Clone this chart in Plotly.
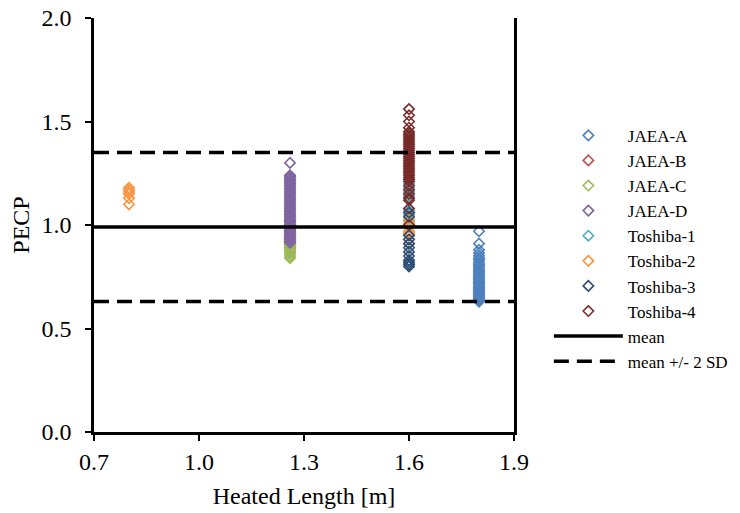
import plotly.graph_objects as go

# ---- data ----
series_names = ["JAEA-A", "JAEA-B", "JAEA-C", "JAEA-D",
                "Toshiba-1", "Toshiba-2", "Toshiba-3", "Toshiba-4"]
series_colors = ["#4F81BD", "#C0504D", "#9BBB59", "#8064A2",
                 "#4BACC6", "#F79646", "#2C4D75", "#772C2A"]

jaea_a_x = 1.8
jaea_a_y = [0.97, 0.91, 0.88, 0.865, 0.852, 0.84, 0.833, 0.821, 0.812, 0.806,
            0.797, 0.789, 0.781, 0.774, 0.768, 0.761, 0.755, 0.748, 0.742, 0.736,
            0.729, 0.723, 0.717, 0.711, 0.704, 0.698, 0.693, 0.686, 0.681, 0.675,
            0.669, 0.664, 0.658, 0.652, 0.647, 0.642, 0.638, 0.634, 0.63]

jaea_b_x = 1.26
jaea_b_y = [0.87, 0.89, 0.905, 0.92, 0.935, 0.95, 0.97, 0.99, 1.02, 1.05]

jaea_c_x = 1.26
jaea_c_y = [0.84, 0.85, 0.86, 0.87, 0.88, 0.885, 0.895, 0.90, 0.91, 0.92,
            0.93, 0.94, 0.95, 0.96, 0.98, 1.00]

jaea_d_x = 1.26
jaea_d_y = [1.30, 1.24, 1.235, 1.228, 1.22, 1.214, 1.206, 1.199, 1.191, 1.184,
            1.176, 1.169, 1.161, 1.154, 1.146, 1.139, 1.131, 1.124, 1.116, 1.109,
            1.101, 1.094, 1.086, 1.079, 1.071, 1.064, 1.056, 1.049, 1.041, 1.034,
            1.026, 1.019, 1.011, 1.004, 0.996, 0.989, 0.981, 0.974, 0.966, 0.959,
            0.951, 0.944, 0.936, 0.929, 0.921, 0.915]

toshiba1_x = [1.6, 1.6, 1.6, 1.6, 1.6, 1.6, 1.6, 1.6]
toshiba1_y = [1.22, 1.20, 1.18, 1.16, 1.14, 1.07, 1.05, 1.02]

toshiba2_x = [0.8, 0.8, 0.8, 0.8, 0.8, 0.8,
              1.6, 1.6, 1.6, 1.6, 1.6, 1.6, 1.6, 1.6, 1.6]
toshiba2_y = [1.18, 1.17, 1.16, 1.15, 1.13, 1.10,
              1.03, 1.01, 1.00, 0.99, 0.97, 0.96, 0.95, 0.93, 0.91]

toshiba3_x = 1.6
toshiba3_y = [1.06, 1.04, 0.95, 0.93, 0.91, 0.89, 0.87, 0.85, 0.83, 0.82, 0.81, 0.80]

toshiba4_x = 1.6
toshiba4_y = [1.56, 1.53, 1.50, 1.47, 1.45, 1.44, 1.43, 1.42, 1.41, 1.40,
              1.39, 1.38, 1.37, 1.36, 1.35, 1.34, 1.33, 1.32, 1.31, 1.30,
              1.29, 1.28, 1.27, 1.26, 1.25, 1.24, 1.23, 1.22, 1.21, 1.19,
              1.17, 1.15, 1.13, 1.12, 1.08, 1.00]

line_x = [0.7, 1.9]
mean_value = 0.99
upper_value = 1.35
lower_value = 0.63

x_ticks = [0.7, 1.0, 1.3, 1.6, 1.9]
y_ticks = [0.0, 0.5, 1.0, 1.5, 2.0]

# ---- figure ----
def as_list(x, ys):
    return x if isinstance(x, list) else [x] * len(ys)

xs = [jaea_a_x, jaea_b_x, jaea_c_x, jaea_d_x, toshiba1_x, toshiba2_x, toshiba3_x, toshiba4_x]
ys = [jaea_a_y, jaea_b_y, jaea_c_y, jaea_d_y, toshiba1_y, toshiba2_y, toshiba3_y, toshiba4_y]

FONT = "Liberation Serif, Times New Roman, serif"
fig = go.Figure()
for name, color, x, y in zip(series_names, series_colors, xs, ys):
    fig.add_trace(go.Scatter(
        x=as_list(x, y), y=y, mode="markers", name=name,
        marker=dict(symbol="diamond-open", size=8, color=color,
                    line=dict(width=1.6, color=color))))

fig.add_trace(go.Scatter(
    x=line_x, y=[mean_value, mean_value], mode="lines", name="mean",
    line=dict(color="black", width=3.5)))
fig.add_trace(go.Scatter(
    x=line_x + [None] + line_x,
    y=[upper_value, upper_value, None, lower_value, lower_value],
    mode="lines", name="mean +/- 2 SD",
    line=dict(color="black", width=3.5, dash="15px,8px")))

fig.update_layout(
    width=740, height=513,
    margin=dict(l=94, r=226, t=18, b=81, autoexpand=False),
    paper_bgcolor="white", plot_bgcolor="white",
    font=dict(family=FONT, size=24, color="black"),
    showlegend=True,
    legend=dict(x=1.083, xanchor="left", y=0.759, yanchor="top",
                font=dict(size=17, family=FONT), itemwidth=69,
                bgcolor="rgba(0,0,0,0)"),
    xaxis=dict(range=[0.7, 1.9], tickvals=x_ticks, tickformat=".1f",
               showgrid=False, zeroline=False, showline=True,
               linecolor="black", linewidth=2.5, ticks="outside",
               ticklen=6, tickwidth=2, tickcolor="black",
               ticklabelstandoff=0,
               title=dict(text="Heated Length [m]", font=dict(size=24), standoff=14)),
    xaxis2=dict(range=[0.7, 1.9], tickvals=x_ticks, overlaying="x",
                showticklabels=False, showgrid=False, zeroline=False,
                showline=False, ticks="inside", ticklen=6, tickwidth=2,
                tickcolor="black", side="bottom"),
    yaxis=dict(range=[0, 2], tickvals=y_ticks, tickformat=".1f",
               showgrid=False, zeroline=False, showline=True, mirror=True,
               linecolor="black", linewidth=2.5, ticks="outside",
               ticklen=6, tickwidth=2, tickcolor="black",
               ticklabelstandoff=9,
               title=dict(text="PECP", font=dict(size=24), standoff=6)),
)

fig.write_html("out.html")
